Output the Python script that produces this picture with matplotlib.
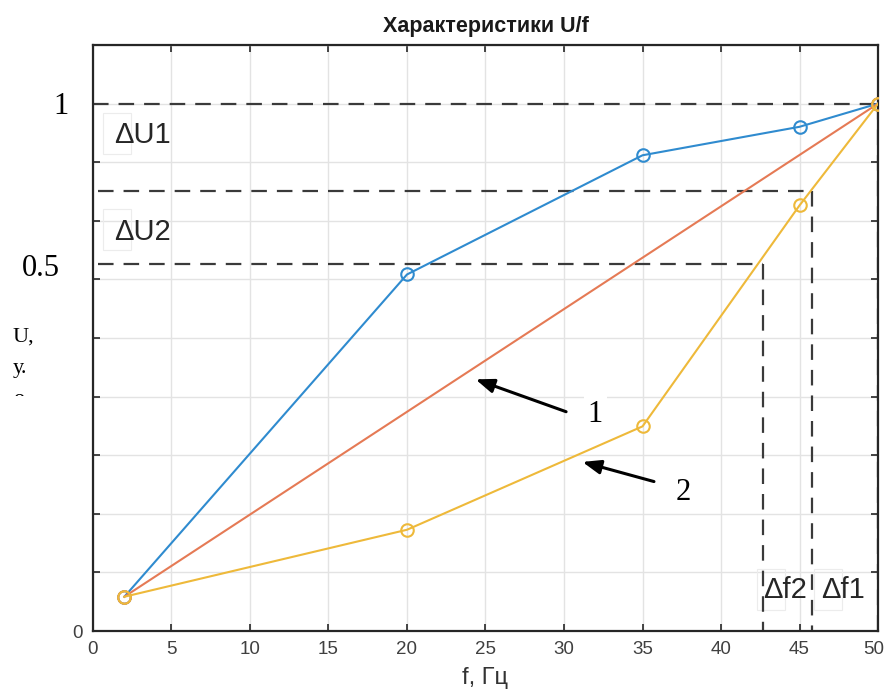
import numpy as np
import matplotlib
matplotlib.use("Agg")
import matplotlib.pyplot as plt
import matplotlib.transforms as mtransforms
from matplotlib.patches import Rectangle

# U/f characteristics (normalised voltage vs. frequency)
freq = [2, 20, 35, 45, 50]
u_curve_blue = [0.065, 0.676, 0.902, 0.956, 1.0]
freq_linear = [2, 50]
u_linear = [0.065, 1.0]
u_curve_yellow = [0.065, 0.192, 0.388, 0.807, 1.0]

# guide levels for the voltage / frequency deviations
u_level_1 = 1.0
u_level_du1 = 0.834
u_level_du2 = 0.695
f_df1 = 45.8
f_df2 = 42.7
f_max = 50

x_ticks = list(range(0, 55, 5))
y_grid = [k / 9 for k in range(11)]

plt.rcParams["font.family"] = ["Liberation Sans", "DejaVu Sans"]

fig = plt.figure(figsize=(8.87, 6.91), dpi=100)
ax = fig.add_axes([0.1048, 0.0868, 0.8851, 0.8481])

ax.set_xlim(0, 50)
ax.set_ylim(0, 10 / 9)
ax.set_xticks(x_ticks)
ax.set_yticks(y_grid)
ax.set_yticklabels(["0"] + [""] * 10)
ax.grid(True, color="#e3e3e3", lw=1.0)
ax.set_axisbelow(True)
ax.tick_params(direction="in", top=True, right=True, length=5, width=1.2,
               colors="#262626", labelsize=13.5, labelcolor="#404040", pad=7)
for sp in ax.spines.values():
    sp.set_color("#262626")
    sp.set_linewidth(1.6)

# keep the last x tick label inside the canvas
last_label = ax.get_xticklabels()[-1]
last_label.set_transform(last_label.get_transform() +
                         mtransforms.ScaledTranslation(-4 / 100, 0,
                                                       fig.dpi_scale_trans))

dash_kw = dict(color="#3a3a3a", lw=1.6, dashes=(7, 4.5), zorder=2)
ax.plot([0, f_max], [u_level_1, u_level_1], **dash_kw)
ax.plot([f_max, f_max], [u_level_1, 0], **dash_kw)
ax.plot([0.35, f_df1], [u_level_du1, u_level_du1], **dash_kw)
ax.plot([f_df1, f_df1], [u_level_du1, 0], **dash_kw)
ax.plot([0.35, f_df2], [u_level_du2, u_level_du2], **dash_kw)
ax.plot([f_df2, f_df2], [u_level_du2, 0], **dash_kw)

line_kw = dict(lw=1.5, marker="o", markersize=9, markerfacecolor="none",
               markeredgewidth=1.5, zorder=3)
ax.plot(freq, u_curve_blue, color="#2F8BCF", **line_kw)
ax.plot(freq_linear, u_linear, color="#E57A55", **line_kw)
ax.plot(freq, u_curve_yellow, color="#EEB93A", **line_kw)

ax.set_title("Характеристики U/f", fontsize=15.5, fontweight="bold",
             color="#1a1a1a", pad=9)
ax.set_xlabel("f, Гц", fontsize=17, color="#333333", labelpad=7)

# delta labels inside the plot
delta_kw = dict(fontsize=21, color="#262626", va="center", ha="left", zorder=5)
ax.text(1.35, 0.940, "ΔU1", **delta_kw)
ax.text(1.35, 0.757, "ΔU2", **delta_kw)
ax.text(42.7, 0.078, "Δf2", **delta_kw)
ax.text(46.35, 0.078, "Δf1", **delta_kw)
for (x0, y0) in [(0.65, 0.905), (0.65, 0.722)]:
    ax.add_patch(Rectangle((x0, y0), 1.75, 0.078, fill=False,
                           ec="#ececec", lw=0.8, zorder=1))
for (x0, y0) in [(42.3, 0.04), (45.9, 0.04)]:
    ax.add_patch(Rectangle((x0, y0), 1.8, 0.078, fill=False,
                           ec="#ececec", lw=0.8, zorder=1))

# numbered pointers
serif = ["Liberation Serif", "DejaVu Serif"]
arrow_kw = dict(arrowstyle="-|>,head_length=1.1,head_width=0.42",
                color="black", lw=2.2)
ax.annotate("", xy=(24.2, 0.479), xytext=(30.3, 0.414),
            arrowprops=arrow_kw, zorder=6)
ax.annotate("", xy=(31.0, 0.322), xytext=(35.9, 0.282),
            arrowprops=arrow_kw, zorder=6)
ax.text(32.0, 0.410, "1", family=serif, fontsize=22, ha="center",
        va="center", zorder=6,
        bbox=dict(fc="white", ec="none", pad=3))
ax.text(37.6, 0.263, "2", family=serif, fontsize=22, ha="center",
        va="center", zorder=6,
        bbox=dict(fc="white", ec="none", pad=3))

# axis annotations placed beside the frame
fig.text(61 / 887, 1 - 107 / 691, "1", family=serif, fontsize=22,
         ha="center", va="center")
fig.text(41 / 887, 1 - 268 / 691, "0.5", family=serif, fontsize=22,
         ha="center", va="center")
fig.text(13 / 887, 1 - 337 / 691, "U,", family=serif, fontsize=16,
         ha="left", va="center")
fig.text(13 / 887, 1 - 368 / 691, "у.", family=serif, fontsize=16,
         ha="left", va="center")
clipped = fig.text(13 / 887, 1 - 399 / 691, "о", family=serif, fontsize=16,
                   ha="left", va="center")
clip_rect = Rectangle((0, 1 - 396 / 691), 60 / 887, 20 / 691,
                      transform=fig.transFigure, fill=False, visible=False)
fig.add_artist(clip_rect)
clipped.set_clip_path(clip_rect)

fig.savefig("out.png", dpi=100, facecolor="white")
